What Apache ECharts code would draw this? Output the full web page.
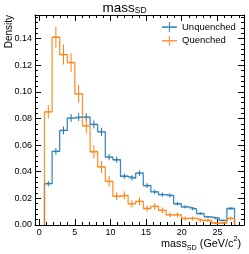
<!DOCTYPE html>
<html><head><meta charset="utf-8">
<script src="https://cdn.jsdelivr.net/npm/echarts@6/dist/echarts.min.js"></script>
<style>html,body{margin:0;padding:0;background:#fff}#c{width:249px;height:254px}</style>
</head><body><div id="c"></div>
<script>
// bin edges of mass_SD histogram (GeV/c^2)
const binEdges = [0.75, 1.82, 2.88, 3.95, 5.01, 6.08, 7.15, 8.21, 9.28, 10.34, 11.41, 12.48, 13.54,
  14.61, 15.67, 16.74, 17.81, 18.87, 19.94, 21.0, 22.07, 23.14, 24.2, 25.27, 26.33, 27.4];
const unquenched = [0.031, 0.0553, 0.071, 0.0803, 0.081, 0.081, 0.0755, 0.070, 0.051, 0.049, 0.0366, 0.0353,
  0.039, 0.0296, 0.0249, 0.0228, 0.0221, 0.0159, 0.0136, 0.0121, 0.0086, 0.0061, 0.0051, 0.0034, 0.0124];
const unquenchedErr = [0.002, 0.0025, 0.003, 0.003, 0.003, 0.003, 0.003, 0.003, 0.0024, 0.0023, 0.002, 0.002,
  0.002, 0.0018, 0.0017, 0.0016, 0.0016, 0.0013, 0.0012, 0.0011, 0.001, 0.0008, 0.0007, 0.0006, 0.0011];
const quenched = [0.085, 0.141, 0.128, 0.122, 0.0985, 0.0745, 0.055, 0.0436, 0.0328, 0.0216, 0.0222, 0.0159,
  0.0178, 0.0124, 0.014, 0.011, 0.0076, 0.0076, 0.0049, 0.0049, 0.0034, 0.0034, 0.0015, 0.0015, 0.005];
const quenchedErr = [0.005, 0.008, 0.0075, 0.007, 0.0065, 0.006, 0.005, 0.0045, 0.004, 0.003, 0.003, 0.0027,
  0.0028, 0.0023, 0.0025, 0.0022, 0.0018, 0.0018, 0.0015, 0.0015, 0.0012, 0.0012, 0.0008, 0.0008, 0.0015];
const xMajorTicks = [0, 5, 10, 15, 20, 25];
const yMajorTicks = [0, 0.02, 0.04, 0.06, 0.08, 0.10, 0.12, 0.14];

const X_MIN = -0.58, X_MAX = 28.73, Y_MIN = 0, Y_MAX = 0.1577;
const xMinorTicks = []; for (let i = 0; i <= 28; i++) xMinorTicks.push(i);
const yMinorTicks = []; for (let i = 0; i <= 39; i++) yMinorTicks.push(+(i * 0.004).toFixed(3));

const BLUE = '#1f77b4', ORANGE = '#ff7f0e';
const FONT = 'Liberation Sans';

function stepData(vals) {
  const d = [[binEdges[0], 0]];
  for (let i = 0; i < vals.length; i++) d.push([binEdges[i], vals[i]]);
  d.push([binEdges[vals.length], vals[vals.length - 1]]);
  d.push([binEdges[vals.length], 0]);
  return d;
}
function errData(vals, errs) {
  return vals.map((v, i) => [binEdges[i], binEdges[i + 1], v, errs[i]]);
}
function errRender(color) {
  return function (params, api) {
    const lo = api.value(0), hi = api.value(1), v = api.value(2), e = api.value(3);
    const c = (lo + hi) / 2;
    const a = api.coord([lo, v]), b = api.coord([hi, v]);
    const p = api.coord([c, v - e]), q = api.coord([c, v + e]);
    return {
      type: 'group', children: [
        { type: 'line', shape: { x1: a[0], y1: a[1], x2: b[0], y2: b[1] }, style: { stroke: color, lineWidth: 1.8, opacity: 0.35 } },
        { type: 'line', shape: { x1: p[0], y1: p[1], x2: q[0], y2: q[1] }, style: { stroke: color, lineWidth: 1 } }
      ]
    };
  };
}
const plus = 'path://M0,4.3h15v1.6h-15z M6.9,0h1.2v10h-1.2z';

function xAx(pos, values, len, showLine, showLabel) {
  return {
    type: 'value', min: X_MIN, max: X_MAX, position: pos,
    axisLine: { show: showLine, onZero: false, lineStyle: { color: '#000', width: 1 } },
    axisTick: { show: true, inside: true, length: len, customValues: values, lineStyle: { color: '#000', width: 1 } },
    axisLabel: { show: showLabel, customValues: values, fontSize: 9, color: '#000', margin: 3, fontFamily: FONT },
    splitLine: { show: false }
  };
}
function yAx(pos, values, len, showLine, showLabel) {
  return {
    type: 'value', min: Y_MIN, max: Y_MAX, position: pos,
    axisLine: { show: showLine, onZero: false, lineStyle: { color: '#000', width: 1 } },
    axisTick: { show: true, inside: true, length: len, customValues: values, lineStyle: { color: '#000', width: 1 } },
    axisLabel: { show: showLabel, customValues: values, fontSize: 9, color: '#000', margin: 3, fontFamily: FONT,
      formatter: v => v.toFixed(2) },
    splitLine: { show: false }
  };
}

const chart = echarts.init(document.getElementById('c'), null, { renderer: 'canvas' });
chart.setOption({
  animation: false,
  backgroundColor: '#fff',
  grid: { left: 35, right: 5, top: 15, bottom: 29 },
  xAxis: [
    xAx('bottom', xMajorTicks, 6, true, true),
    xAx('bottom', xMinorTicks, 3, false, false),
    xAx('top', xMajorTicks, 6, true, false),
    xAx('top', xMinorTicks, 3, false, false)
  ],
  yAxis: [
    yAx('left', yMajorTicks, 6, true, true),
    yAx('left', yMinorTicks, 3, false, false),
    yAx('right', yMajorTicks, 6, true, false),
    yAx('right', yMinorTicks, 3, false, false)
  ],
  legend: {
    orient: 'vertical', left: 162, top: 22, padding: 0, itemGap: 3.7,
    itemWidth: 15, itemHeight: 11,
    textStyle: { fontSize: 9.5, color: '#000', fontFamily: FONT },
    data: [
      { name: 'Unquenched', icon: plus, itemStyle: { color: BLUE, opacity: 0.8 } },
      { name: 'Quenched', icon: plus, itemStyle: { color: ORANGE, opacity: 0.8 } }
    ]
  },
  graphic: [
    { type: 'text', left: 'center', top: 1,
      style: { text: '{m|mass}{s|SD}', x: 0, y: 0,
        rich: { m: { fontSize: 13.5, fontFamily: FONT, fill: '#000', lineHeight: 15 },
                s: { fontSize: 8.5, fontFamily: FONT, fill: '#000', lineHeight: 8, verticalAlign: 'bottom' } } },
      x: 140 },
    { type: 'text', x: 9, y: 15, rotation: Math.PI / 2,
      style: { text: 'Density', fontSize: 10, fontFamily: FONT, fill: '#000', align: 'right', verticalAlign: 'middle' } },
    { type: 'text', right: 8, top: 236,
      style: { text: '{m|mass}{s|SD}{m| (GeV/c}{p|2}{m|)}',
        rich: { m: { fontSize: 10.8, fontFamily: FONT, fill: '#000', lineHeight: 16 },
                s: { fontSize: 7.2, fontFamily: FONT, fill: '#000', lineHeight: 7, verticalAlign: 'bottom' },
                p: { fontSize: 7.2, fontFamily: FONT, fill: '#000', lineHeight: 7, verticalAlign: 'top' } } } }
  ],
  series: [
    { name: 'Unquenched', type: 'line', step: 'end', data: stepData(unquenched), symbol: 'none',
      xAxisIndex: 0, yAxisIndex: 0, itemStyle: { color: BLUE },
      lineStyle: { color: BLUE, width: 1.3, opacity: 0.85 }, z: 3 },
    { name: 'Unquenched', type: 'custom', data: errData(unquenched, unquenchedErr), renderItem: errRender(BLUE),
      xAxisIndex: 0, yAxisIndex: 0, itemStyle: { color: BLUE }, z: 4 },
    { name: 'Quenched', type: 'line', step: 'end', data: stepData(quenched), symbol: 'none',
      xAxisIndex: 0, yAxisIndex: 0, itemStyle: { color: ORANGE },
      lineStyle: { color: ORANGE, width: 1.3, opacity: 0.85 }, z: 5 },
    { name: 'Quenched', type: 'custom', data: errData(quenched, quenchedErr), renderItem: errRender(ORANGE),
      xAxisIndex: 0, yAxisIndex: 0, itemStyle: { color: ORANGE }, z: 6 }
  ]
});
</script></body></html>
